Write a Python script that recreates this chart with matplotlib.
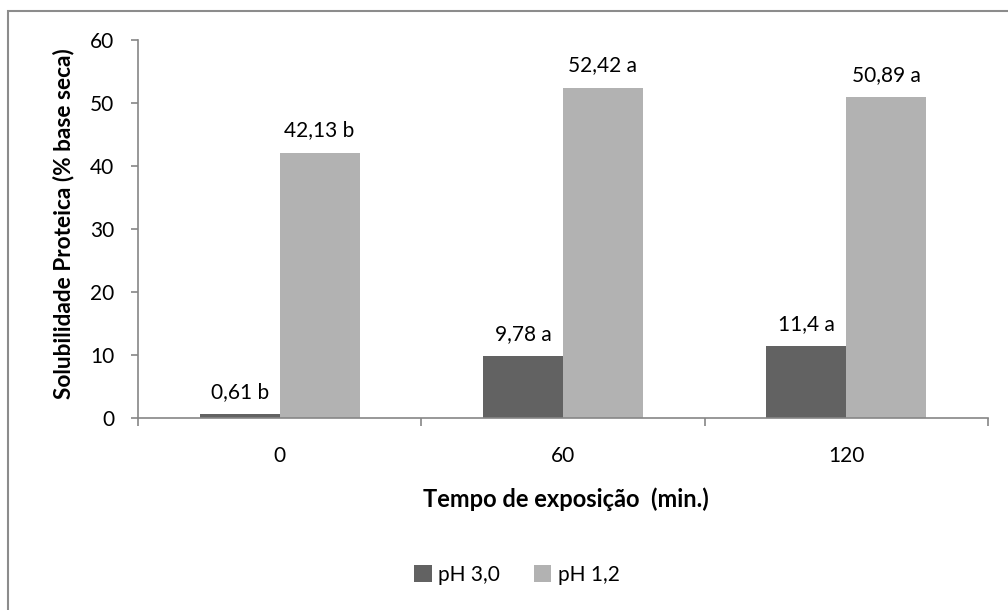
import matplotlib
matplotlib.use("Agg")
import matplotlib.pyplot as plt
from matplotlib.patches import Rectangle
import numpy as np

plt.rcParams['font.family'] = ['Lato', 'DejaVu Sans']

# data
tempos = ["0", "60", "120"]
ph30 = [0.61, 9.78, 11.4]
ph12 = [42.13, 52.42, 50.89]
rot_ph30 = ["0,61 b", "9,78 a", "11,4 a"]
rot_ph12 = ["42,13 b", "52,42 a", "50,89 a"]
y_ticks = [0, 10, 20, 30, 40, 50, 60]

W, H = 1008, 610
fig = plt.figure(figsize=(W / 100, H / 100), dpi=100)
ax = fig.add_axes([138 / W, 1 - 418 / H, 850 / W, 378 / H])

# chart-area border (runs off right/bottom edges like in the reference)
fig.patches.append(Rectangle((8 / W, -0.2), 1.3, 1 - 11 / H + 0.2,
                             transform=fig.transFigure, fill=False,
                             edgecolor="#8c8c8c", lw=1.5))

x = np.arange(len(tempos))
w = 0.282
b1 = ax.bar(x - w / 2, ph30, w, color="#626262", label="pH 3,0")
b2 = ax.bar(x + w / 2, ph12, w, color="#b2b2b2", label="pH 1,2")
ax.bar_label(b1, labels=rot_ph30, padding=9, fontsize=15)
ax.bar_label(b2, labels=rot_ph12, padding=9, fontsize=15)

ax.set_xlim(-0.5, 2.5)
ax.set_ylim(0, 60)
ax.set_yticks(y_ticks)
ax.set_xticks(x)
ax.set_xticklabels(tempos)
ax.set_xticks(np.arange(-0.5, 3, 1), minor=True)

for s in ["top", "right"]:
    ax.spines[s].set_visible(False)
for s in ["left", "bottom"]:
    ax.spines[s].set_color("#868686")
    ax.spines[s].set_linewidth(1.2)

ax.tick_params(axis="y", direction="out", length=5, width=1.2,
               color="#868686", pad=12, labelsize=15)
ax.tick_params(axis="x", which="major", length=0, pad=20, labelsize=15)
ax.tick_params(axis="x", which="minor", direction="out", length=6,
               width=1.2, color="#868686")

fig.text(64 / W, 1 - 224 / H, "Solubilidade Proteica (% base seca)",
         rotation=90, ha="center", va="center", fontsize=16.3,
         fontweight="bold")
fig.text(566 / W, 1 - 499 / H, "Tempo de exposição  (min.)",
         ha="center", va="center", fontsize=17, fontweight="bold")

fig.legend(handles=[b1, b2], loc="center",
           bbox_to_anchor=(517 / W, 1 - 575 / H), ncol=2, frameon=False,
           fontsize=15, handlelength=0.85, handleheight=0.85,
           handletextpad=0.3, columnspacing=1.6)

fig.savefig("out.png", dpi=100)
